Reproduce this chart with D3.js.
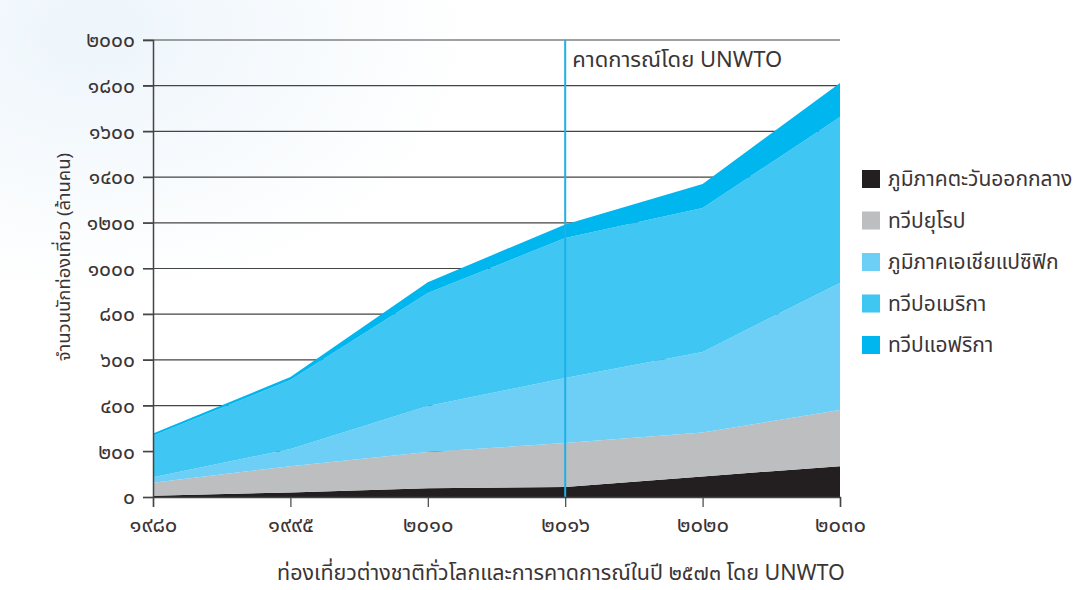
<!DOCTYPE html>
<html>
<head>
<meta charset="utf-8">
<script src="https://d3js.org/d3.v7.min.js"></script>
<style>
  body { margin: 0; background: #fff; }
  svg text { font-family: "Noto Sans Thai", "Tahoma", "Noto Sans", sans-serif; fill: #3b3535; }
</style>
</head>
<body>
<svg id="chart" width="1088" height="590"></svg>
<script>
// x categories (Thai numerals as printed)
const years = ["๑๙๘๐", "๑๙๙๕", "๒๐๑๐", "๒๐๑๖", "๒๐๒๐", "๒๐๓๐"];

// million arrivals per region
const middleEast = [6, 20, 38, 44, 90, 135];
const europe = [56, 115, 159, 192, 192, 246];
const asiaPacific = [24, 75, 201, 285, 353, 556];
const americas = [182, 302, 495, 612, 630, 726];
const africa = [10, 13, 47, 60, 105, 149];

const seriesNames = ["ภูมิภาคตะวันออกกลาง", "ทวีปยุโรป", "ภูมิภาคเอเชียแปซิฟิก", "ทวีปอเมริกา", "ทวีปแอฟริกา"];
const seriesColors = ["#231f20", "#bcbec0", "#6dcff6", "#40c6f2", "#00b6ee"];

const yTicks = [0, 200, 400, 600, 800, 1000, 1200, 1400, 1600, 1800, 2000];
const forecastYear = "๒๐๑๖";
const forecastLabel = "คาดการณ์โดย UNWTO";
const yTitle = "จำนวนนักท่องเที่ยว (ล้านคน)";
const caption = "ท่องเที่ยวต่างชาติทั่วโลกและการคาดการณ์ในปี ๒๕๗๓ โดย UNWTO";

const thaiDigits = "๐๑๒๓๔๕๖๗๘๙";
const toThai = n => String(n).replace(/\d/g, d => thaiDigits[+d]);

const rows = years.map((y, i) => ({
  year: y, s0: middleEast[i], s1: europe[i], s2: asiaPacific[i], s3: americas[i], s4: africa[i]
}));
const keys = ["s0", "s1", "s2", "s3", "s4"];

const svg = d3.select("#chart");

// faint blue wash at the top left
const defs = svg.append("defs");
const grad = defs.append("radialGradient").attr("id", "wash")
  .attr("cx", "0.2").attr("cy", "0.1").attr("r", "0.8");
grad.append("stop").attr("offset", "0").attr("stop-color", "#edf5fb");
grad.append("stop").attr("offset", "1").attr("stop-color", "#ffffff");
svg.append("rect").attr("x", 0).attr("y", 0).attr("width", 470).attr("height", 330)
  .attr("fill", "url(#wash)");

const x = d3.scalePoint().domain(years).range([153, 840]);
const y = d3.scaleLinear().domain([0, 2000]).range([497, 40]);

// grid lines (behind areas)
svg.append("g").selectAll("line").data(yTicks.filter(d => d > 0)).join("line")
  .attr("x1", 143).attr("x2", 840)
  .attr("y1", d => y(d)).attr("y2", d => y(d))
  .attr("stroke", "#444").attr("stroke-width", 1.2);

const stack = d3.stack().keys(keys);
const layers = stack(rows);
const area = d3.area()
  .x(d => x(d.data.year))
  .y0(d => y(d[0]))
  .y1(d => y(d[1]));

svg.append("g").selectAll("path").data(layers).join("path")
  .attr("d", area)
  .attr("fill", (d, i) => seriesColors[i]);

// forecast line
svg.append("line")
  .attr("x1", x(forecastYear)).attr("x2", x(forecastYear))
  .attr("y1", y(2000)).attr("y2", y(0))
  .attr("stroke", "#1fb0e6").attr("stroke-width", 2);
svg.append("text").attr("x", x(forecastYear) + 7).attr("y", 67)
  .attr("font-size", 22).text(forecastLabel);

// y axis
const yAxis = svg.append("g").attr("transform", "translate(153,0)")
  .call(d3.axisLeft(y).tickValues(yTicks).tickSize(10).tickPadding(8).tickFormat(toThai));
yAxis.select(".domain").attr("stroke", "#444").attr("stroke-width", 1.5);
yAxis.selectAll(".tick line").attr("stroke", "#444").attr("stroke-width", 1.2);
yAxis.selectAll(".tick text").attr("font-size", 21).attr("fill", "#3b3535");

// x axis
const xAxis = svg.append("g").attr("transform", "translate(0,497)")
  .call(d3.axisBottom(x).tickSize(10).tickPadding(9));
xAxis.select(".domain").attr("stroke", "#444").attr("stroke-width", 1.5);
xAxis.selectAll(".tick line").attr("stroke", "#444").attr("stroke-width", 1.2);
xAxis.selectAll(".tick text").attr("font-size", 22).attr("fill", "#3b3535");

// axis title
svg.append("text")
  .attr("transform", "translate(70,257) rotate(-90)")
  .attr("text-anchor", "middle").attr("font-size", 18.5).text(yTitle);

// caption
svg.append("text").attr("x", 561).attr("y", 580)
  .attr("text-anchor", "middle").attr("font-size", 21.5).text(caption);

// legend
const legend = svg.append("g").selectAll("g").data(seriesNames).join("g")
  .attr("transform", (d, i) => `translate(862,${170 + i * 41.5})`);
legend.append("rect").attr("width", 18).attr("height", 18)
  .attr("fill", (d, i) => seriesColors[i]);
legend.append("text").attr("x", 26).attr("y", 16).attr("font-size", 21).text(d => d);
</script>
</body>
</html>
